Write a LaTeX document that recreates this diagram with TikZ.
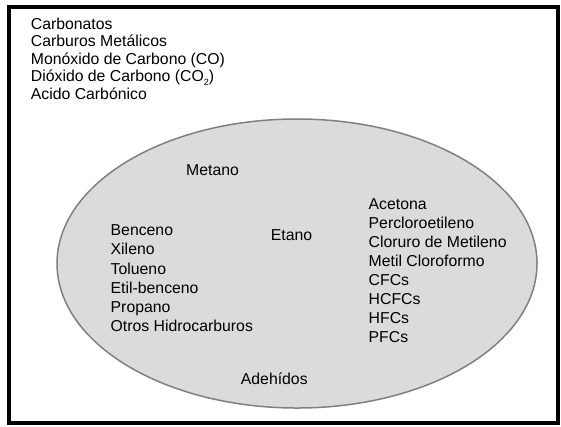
\documentclass[tikz,border=0pt]{standalone}
\usepackage{fontspec}
\setmainfont{Liberation Sans}
\newcommand{\lowsub}[1]{\raisebox{-0.45ex}{\fontsize{9}{9}\selectfont #1}}
\begin{document}
\begin{tikzpicture}[x=1pt,y=-1pt,
  lbl/.style={inner sep=0pt, anchor=base west, align=left, text=black},
  frame/.style={draw=black, line width=4pt},
  blob/.style={draw=black!50, fill=black!14, line width=1.5pt}]
\useasboundingbox (0,0) rectangle (561,426);
\draw[frame] (9,7) rectangle (558,423);
\draw[blob] (297,263.5) ellipse [x radius=240, y radius=144.5];
% base anchor of a multi-line node = baseline of its last line
\node[lbl, font=\fontsize{15.8}{17.4}\selectfont] (top) at (30.7,99.1)
  {Carbonatos\\Carburos Metálicos\\Monóxido de Carbono (CO)\\Dióxido de Carbono (CO\lowsub{2})\\Acido Carbónico};
\node[lbl, font=\fontsize{15.8}{19.2}\selectfont] (metano) at (186,175.7) {Metano};
\node[lbl, font=\fontsize{15.8}{19.2}\selectfont] (left) at (110.5,331.7)
  {Benceno\\Xileno\\Tolueno\\Etil-benceno\\Propano\\Otros Hidrocarburos};
\node[lbl, font=\fontsize{15.8}{19.2}\selectfont] (etano) at (270.7,240) {Etano};
\node[lbl, font=\fontsize{15.8}{19.06}\selectfont] (right) at (368.5,342.7)
  {Acetona\\Percloroetileno\\Cloruro de Metileno\\Metil Cloroformo\\CFCs\\HCFCs\\HFCs\\PFCs};
\node[lbl, font=\fontsize{15.8}{19.2}\selectfont] (adeh) at (240.7,384.3) {Adehídos};
\end{tikzpicture}
\end{document}
